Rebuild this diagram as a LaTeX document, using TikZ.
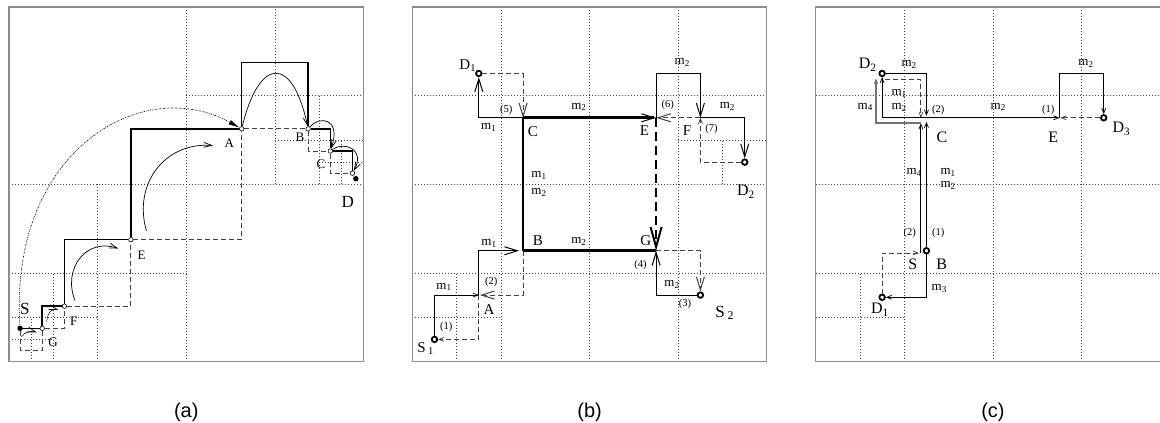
\documentclass[tikz,border=0pt]{standalone}
\usepackage{fontspec}
\setmainfont{Liberation Serif}
\newfontfamily\capfont{Liberation Sans}
\usetikzlibrary{arrows.meta}

\tikzset{
  bigv/.tip={Straight Barb[length=13pt,width=8pt,line width=1pt]},
  hugev/.tip={Straight Barb[length=20pt,width=11pt,line width=2pt]},
  smallv/.tip={Straight Barb[length=5pt,width=4pt,line width=0.7pt]},
  arcv/.tip={Straight Barb[length=8pt,width=5pt,line width=0.7pt]},
}

\begin{document}
\begin{tikzpicture}[x=22.16pt,y=22.16pt,
  panelframe/.style={draw=black!45,line width=1.2pt},
  gridline/.style={black!75,line width=0.8pt,dash pattern=on 0.8pt off 2.2pt},
  hole/.style={circle,draw,fill=white,line width=0.6pt,inner sep=0pt,minimum size=4.5pt},
  dot/.style={circle,fill,inner sep=0pt,minimum size=5.5pt},
  ring/.style={circle,draw,fill=white,line width=1.8pt,inner sep=0pt,minimum size=5.5pt},
  stair/.style={line width=1.5pt},
  dsh/.style={black!75,line width=0.9pt,dash pattern=on 5pt off 3pt},
  arcl/.style={line width=0.7pt,-arcv},
  thinl/.style={line width=1pt},
  thk/.style={line width=2.6pt},
  thkdsh/.style={line width=2.6pt,dash pattern=on 9pt off 5pt},
  gryl/.style={black!55,line width=2pt},
  la/.style={inner sep=0pt,font=\fontsize{13}{13}\selectfont},
  lbig/.style={inner sep=0pt,font=\fontsize{17}{17}\selectfont},
  lb/.style={inner sep=0pt,font=\fontsize{15}{15}\selectfont},
  lc/.style={inner sep=0pt,font=\fontsize{16}{16}\selectfont},
  lm/.style={inner sep=0pt,font=\fontsize{13}{13}\selectfont},
  ln/.style={inner sep=0pt,font=\fontsize{10.5}{10.5}\selectfont},
  caption/.style={inner sep=0pt,font=\capfont\fontsize{20}{20}\selectfont}]

\useasboundingbox (-0.406,-2.73) rectangle (51.94,16.316);

% (a)
\begin{scope}
  \foreach \x/\ya/\yb in {8/0/16,12/8/16,14/8/12,15/8/10,4/0/8,2/0/4,1/0/2}
    \draw[gridline] (\x,\ya) -- (\x,\yb);
  \foreach \y/\xa/\xb in {8/0/16,12/8/16,10/12/16,9/14/16,4/0/8,2/0/4,1/0/2}
    \draw[gridline] (\xa,\y) -- (\xb,\y);
  \draw[panelframe] (0,0) rectangle (16,16);

  \node[dot] (aS) at (0.5,1.5) {};
  \node[hole] (aG) at (1.5,1.5) {};
  \node[hole] (aF) at (2.5,2.5) {};
  \node[hole] (aE) at (5.5,5.5) {};
  \node[hole] (aA) at (10.5,10.5) {};
  \node[hole] (aB) at (13.5,10.5) {};
  \node[hole] (aC) at (14.5,9.5) {};
  \node[hole] (aD) at (15.5,8.5) {};
  \node[dot] (aDd) at (15.65,8.25) {};

  \draw[dsh] (aS) -- ++(0,-1) -| (aG);
  \draw[dsh] (aG) -| (aF);
  \draw[dsh] (aF) -| (aE);
  \draw[dsh] (aE) -| (aA);
  \draw[dsh] (aA) -- (aB);
  \draw[dsh] (aB) |- (aC);
  \draw[dsh] (aC) |- (aD);

  \draw[stair] (aS) -- (aG);
  \draw[stair] (aG) |- (aF);
  \draw[stair] (aF) |- (aE);
  \draw[stair] (aE) |- (aA);
  \draw[stair] (aA) -- ++(0,3) -| (aB);
  \draw[stair] (aB) -| (aC);
  \draw[stair] (aC) -| (aD);

  \draw[line width=0.6pt,dash pattern=on 1.5pt off 1pt on 0.5pt off 1pt,
    -{Latex[length=11pt,width=5pt]}] (aS) .. controls (0,9.5) and (6,13) .. (aA);
  \draw[arcl] (aA) .. controls (11.3,13.8) and (12.8,13.8) .. (aB);
  \draw[arcl] (aB) .. controls (14,11.1) and (15,11) .. (aC);
  \draw[arcl] (aC) .. controls (15.1,9.95) and (16.1,9.6) .. (aD);
  \draw[arcl] (6.2,5.9) .. controls (5.6,8) and (7,9.9) .. (9.2,9.75);
  \draw[arcl] (2.98,2.75) .. controls (2.4,4.2) and (3.5,5.6) .. (4.93,5.1);
  \draw[arcl,line width=0.5pt] (1.7,1.8) .. controls (1.75,2.3) and (2.0,2.4) .. (2.22,2.33);
  \draw[arcl,line width=0.5pt] (0.57,1.12) .. controls (0.7,1.35) and (1.0,1.4) .. (1.25,1.32);

  \node[la] (laA) at (9.94,9.85) {A};
  \node[la] (laB) at (13.13,10.13) {B};
  \node[la] (laC) at (14.08,8.92) {C};
  \node[lbig] (laD) at (15.29,7.19) {D};
  \node[la] (laE) at (5.98,4.78) {E};
  \node[la] (laF) at (2.92,1.84) {F};
  \node[la] (laG) at (1.99,0.86) {G};
  \node[lbig] (laS) at (0.71,2.37) {S};
  \node[caption] (capa) at (8,-2.28) {(a)};
\end{scope}

% (b)
\begin{scope}[shift={(18.2,0)}]
  \foreach \x/\ya/\yb in {4/0/16,8/0/16,12/0/16,2/0/4,14/8/10}
    \draw[gridline] (\x,\ya) -- (\x,\yb);
  \foreach \y/\xa/\xb in {4/0/16,8/0/16,12/0/16,2/0/4,10/12/16}
    \draw[gridline] (\xa,\y) -- (\xb,\y);
  \draw[panelframe] (0,0) rectangle (16,16);

  \node[ring] (bS1) at (1,1) {};
  \node[ring] (bD1) at (3,13) {};
  \node[ring] (bD2) at (15,9) {};
  \node[ring] (bS2) at (13,3) {};
  \coordinate (bA) at (3,3);
  \coordinate (bB) at (5,5);
  \coordinate (bC) at (5,11);
  \coordinate (bE) at (11,11);
  \coordinate (bF) at (13,11);
  \coordinate (bG) at (11,5);

  \draw[dsh,-smallv] (bA) |- (bS1);
  \draw[dsh,-bigv,shorten >=1pt] (bB) |- (bA);
  \draw[dsh,-bigv] (bD1) -| (bC);
  \draw[dsh,-bigv] (bG) -| (bS2);
  \draw[dsh,-bigv] (bF) -- (bE);
  \draw[dsh,-smallv] (bD2) -| (bF);
  \draw[thinl,-smallv] (bS1) |- (bA);
  \draw[thinl,-bigv,shorten >=4pt] (bA) |- (bB);
  \draw[thinl,-bigv] (bC) -| (bD1);
  \draw[thinl,-bigv] (bS2) -| (bG);
  \draw[thinl,-bigv] (bE) -- ++(0,2) -| (bF);
  \draw[thinl,-bigv] (bF) -| (bD2);
  \draw[thk] (bB) -- (bG);
  \draw[thk] (bB) -- (bC);
  \draw[thk,-bigv] (bC) -- (bE);
  \draw[thkdsh,-hugev] (bE) -- (bG);

  \node[lb] (lbD1) at (2.5,13.35) {D\textsubscript{1}};
  \node[ln] (lb5) at (4.24,11.34) {(5)};
  \node[lm] (lbm1a) at (3.45,10.55) {m\textsubscript{1}};
  \node[lm] (lbm2a) at (7.52,11.49) {m\textsubscript{2}};
  \node[lb] (lbC) at (5.44,10.39) {C};
  \node[lb] (lbE) at (10.48,10.44) {E};
  \node[lb] (lbF) at (12.4,10.44) {F};
  \node[ln] (lb6) at (11.53,11.56) {(6)};
  \node[lm] (lbm2b) at (12.18,13.5) {m\textsubscript{2}};
  \node[lm] (lbm2c) at (14.22,11.5) {m\textsubscript{2}};
  \node[ln] (lb7) at (13.5,10.5) {(7)};
  \node[lc] (lbD2) at (15.05,7.65) {D\textsubscript{2}};
  \node[lm] (lbm1b) at (5.72,8.4) {m\textsubscript{1}};
  \node[lm] (lbm2d) at (5.72,7.65) {m\textsubscript{2}};
  \node[lb] (lbB) at (5.67,5.44) {B};
  \node[lm] (lbm2e) at (7.52,5.44) {m\textsubscript{2}};
  \node[lb] (lbG) at (10.53,5.44) {G};
  \node[lm] (lbm1c) at (3.46,5.32) {m\textsubscript{1}};
  \node[ln] (lb4) at (10.3,4.35) {(4)};
  \node[lm] (lbm2f) at (11.72,3.5) {m\textsubscript{2}};
  \node[ln] (lb3) at (12.3,2.6) {(3)};
  \node[lbig] (lbS2) at (14.1,2.2) {S\,\textsubscript{2}};
  \node[ln] (lb2) at (3.56,3.6) {(2)};
  \node[lb] (lbA) at (3.46,2.35) {A};
  \node[lm] (lbm1d) at (1.43,3.37) {m\textsubscript{1}};
  \node[ln] (lb1) at (1.53,1.56) {(1)};
  \node[lb] (lbS1) at (0.6,0.6) {S\,\textsubscript{1}};
  \node[caption] (capb) at (8,-2.28) {(b)};
\end{scope}

% (c)
\begin{scope}[shift={(36.4,0)}]
  \foreach \x/\ya/\yb in {4/0/16,8/0/16,12/0/16,2/0/4}
    \draw[gridline] (\x,\ya) -- (\x,\yb);
  \foreach \y/\xa/\xb in {4/0/16,8/0/16,12/0/16,2/0/4}
    \draw[gridline] (\xa,\y) -- (\xb,\y);
  \draw[panelframe] (0,0) rectangle (16,16);

  \node[ring] (cB) at (5,5) {};
  \node[ring] (cD1) at (3,2.9) {};
  \node[ring] (cD2) at (3,13) {};
  \node[ring] (cD3) at (13,11) {};
  \coordinate (cC) at (5,11);
  \coordinate (cE) at (11,11);
  \coordinate (cS) at (4.75,4.9);
  \coordinate (cT) at (4.75,10.75);
  \coordinate (cU) at (2.72,12.78);
  \coordinate (cW) at (3.12,12.72);
  \coordinate (cV) at (4.75,11);

  \draw[dsh,-smallv,shorten >=2pt] (cD1) |- (cS);
  \draw[dsh,-smallv] (cW) -| (cV);
  \draw[dsh,-smallv,shorten >=1pt] (cD3) -- (cE);
  \draw[gryl,-smallv] (cT) -| (cU);
  \draw[thinl,-smallv] (cB) |- (cD1);
  \draw[thinl,-smallv,shorten >=4pt] (cB) -- (cC);
  \draw[thinl,-smallv] (cS) -- (cT);
  \draw[thinl,-smallv] (cC) -| (cD2);
  \draw[thinl,-smallv,shorten >=2pt] (cD2) -| (cC);
  \draw[thinl,-smallv] (cC) -- (cE);
  \draw[thinl,-smallv] (cE) -- ++(0,2) -| (cD3);

  \node[lc] (lcD2) at (2.35,13.4) {D\textsubscript{2}};
  \node[lm] (lcm2a) at (4.22,13.4) {m\textsubscript{2}};
  \node[lm] (lcm1a) at (3.77,12.08) {m\textsubscript{1}};
  \node[lm] (lcm2b) at (3.77,11.45) {m\textsubscript{2}};
  \node[lm] (lcm4a) at (2.24,11.49) {m\textsubscript{4}};
  \node[ln] (lc2a) at (5.53,11.34) {(2)};
  \node[lm] (lcm2c) at (8.24,11.49) {m\textsubscript{2}};
  \node[ln] (lc1a) at (10.5,11.34) {(1)};
  \node[lc] (lcE) at (10.72,10.13) {E};
  \node[lc] (lcC) at (5.7,10.1) {C};
  \node[lm] (lcm2d) at (12.2,13.45) {m\textsubscript{2}};
  \node[lc] (lcD3) at (13.8,10.5) {D\textsubscript{3}};
  \node[lm] (lcm4b) at (4.45,8.55) {m\textsubscript{4}};
  \node[lm] (lcm1b) at (5.98,8.55) {m\textsubscript{1}};
  \node[lm] (lcm2e) at (5.98,7.95) {m\textsubscript{2}};
  \node[ln] (lc2b) at (4.25,5.8) {(2)};
  \node[ln] (lc1b) at (5.53,5.8) {(1)};
  \node[lc] (lcS) at (4.38,4.39) {S};
  \node[lc] (lcB) at (5.69,4.39) {B};
  \node[lm] (lcm3) at (5.58,3.29) {m\textsubscript{3}};
  \node[lc] (lcD1) at (2.9,2.33) {D\textsubscript{1}};
  \node[caption] (capc) at (8,-2.28) {(c)};
\end{scope}
\end{tikzpicture}
\end{document}
